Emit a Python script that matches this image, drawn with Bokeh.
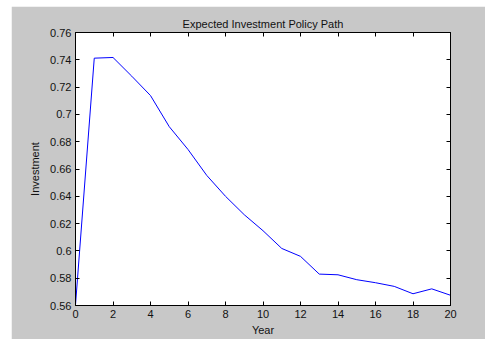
from bokeh.plotting import figure
from bokeh.models import LinearAxis, FixedTicker, Range1d
from bokeh.embed import file_html
from bokeh.resources import INLINE

years = list(range(0, 21))
investment = [0.5605, 0.7412, 0.7417, 0.7280, 0.7138, 0.6910, 0.6743, 0.6553,
              0.6400, 0.6265, 0.6148, 0.6018, 0.5960, 0.5830, 0.5825, 0.5789,
              0.5767, 0.5740, 0.5686, 0.5722, 0.5675]
x_ticks = list(range(0, 21, 2))
y_ticks = [0.56, 0.58, 0.60, 0.62, 0.64, 0.66, 0.68, 0.70, 0.72, 0.74, 0.76]
y_labels = {0.56: "0.56", 0.58: "0.58", 0.60: "0.6", 0.62: "0.62", 0.64: "0.64",
            0.66: "0.66", 0.68: "0.68", 0.70: "0.7", 0.72: "0.72", 0.74: "0.74",
            0.76: "0.76"}

FONT = "Liberation Sans"
GRAY = "#c8c8c8"

p = figure(width=474, height=333, margin=(6, 0, 0, 11),
           output_backend="svg", toolbar_location=None,
           x_range=Range1d(0, 20), y_range=Range1d(0.56, 0.76),
           min_border_left=64, min_border_right=35, min_border_top=26,
           min_border_bottom=34,
           title="Expected Investment Policy Path")
p.border_fill_color = GRAY
p.background_fill_color = "white"
p.outline_line_color = "black"
p.outline_line_width = 1
p.grid.visible = False

p.title.align = "center"
p.title.text_font = FONT
p.title.text_font_size = "11px"
p.title.text_font_style = "normal"
p.title.text_color = "#111111"
p.title.standoff = 6

p.line(years, investment, line_color="#0000ff", line_width=1)

def style(ax, labels=True):
    ax.major_tick_in = 4
    ax.major_tick_out = 0
    ax.minor_tick_in = 0
    ax.minor_tick_out = 0
    ax.axis_line_color = "black"
    ax.major_tick_line_color = "black"
    ax.major_label_text_font = FONT
    ax.major_label_text_font_size = "11px"
    ax.major_label_text_color = "#111111"
    ax.major_label_standoff = 4
    ax.axis_label_text_font = FONT
    ax.axis_label_text_font_size = "11px"
    ax.axis_label_text_font_style = "normal"
    ax.axis_label_text_color = "#111111"

xa = p.xaxis[0]
xa.ticker = FixedTicker(ticks=x_ticks)
xa.axis_label = "Year"
style(xa)
xa.axis_label_standoff = 3

ya = p.yaxis[0]
ya.ticker = FixedTicker(ticks=y_ticks)
ya.major_label_overrides = y_labels
ya.axis_label = "Investment"
style(ya)
ya.axis_label_standoff = 6

top = LinearAxis(ticker=FixedTicker(ticks=x_ticks))
style(top)
top.major_label_overrides = {t: "" for t in x_ticks}
top.major_label_standoff = 0
p.add_layout(top, "above")
right = LinearAxis(ticker=FixedTicker(ticks=y_ticks))
style(right)
right.major_label_overrides = {t: "" for t in y_ticks}
right.major_label_standoff = 0
p.add_layout(right, "right")

open("out.html", "w").write(file_html(p, INLINE))
